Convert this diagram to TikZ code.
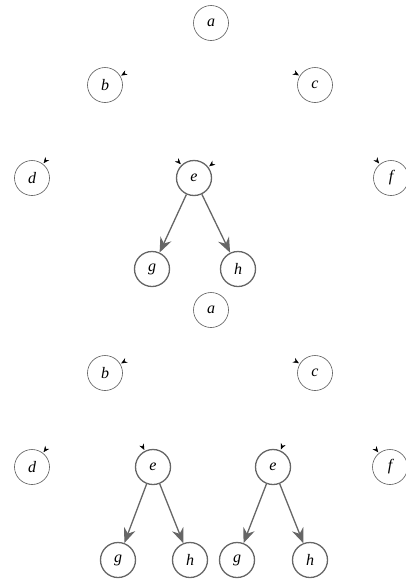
\documentclass[tikz,border=0pt]{standalone}
\usepackage{fontspec}
\setmainfont{Liberation Serif}
\usetikzlibrary{positioning}
\usetikzlibrary{arrows.meta}

\begin{document}
\begin{tikzpicture}[
    vertex/.style={circle, draw=black!65, line width=0.6pt, minimum size=35pt, inner sep=0pt, font=\fontsize{16}{18}\selectfont\itshape},
    hotvertex/.style={vertex, draw=black!60, line width=1.3pt},
    hidden/.style={draw=white, line width=0.4pt, shorten >=1pt, -{Stealth[color=black, length=6pt, width=5pt]}},
    treeedge/.style={draw=black!60, line width=1.3pt, -{Stealth[length=15pt, width=12pt, inset=5pt]}},
    on grid
    ]
    \useasboundingbox (0,0) rectangle (406pt,-581pt);

    %Nodes, first tree
    \node[vertex] (a) at (211pt,-23pt) {a};
    \node[vertex] (b) [below left=62pt and 106pt of a] {b};
    \node[vertex] (c) [below right=62pt and 104pt of a] {c};
    \node[vertex] (d) [below left=93pt and 73pt of b] {d};
    \node[hotvertex] (e) [below right=93pt and 89pt of b] {e};
    \node[vertex] (f) [below right=93pt and 76pt of c] {f};
    \node[hotvertex] (g) [below left=91pt and 42pt of e] {g};
    \node[hotvertex] (h) [below right=91pt and 44pt of e] {h};

    %Nodes, second tree
    \node[vertex] (a2) [below=287pt of a] {a};
    \node[vertex] (b2) [below left=63pt and 106pt of a2] {b};
    \node[vertex] (c2) [below right=63pt and 104pt of a2] {c};
    \node[vertex] (d2) [below left=94pt and 73pt of b2] {d};
    \node[hotvertex] (e2) [below right=94pt and 48pt of b2] {e};
    \node[hotvertex] (e3) [below left=94pt and 42pt of c2] {e};
    \node[vertex] (f2) [below right=94pt and 75pt of c2] {f};
    \node[hotvertex] (g2) [below left=93pt and 35pt of e2] {g};
    \node[hotvertex] (h2) [below right=93pt and 37pt of e2] {h};
    \node[hotvertex] (g3) [below left=93pt and 36pt of e3] {g};
    \node[hotvertex] (h3) [below right=93pt and 37pt of e3] {h};

    %Lines
    \draw[hidden] (a) -- (b);
    \draw[hidden] (a) -- (c);
    \draw[hidden] (b) -- (d);
    \draw[hidden] (b) -- (e);
    \draw[hidden] (c) -- (e);
    \draw[hidden] (c) -- (f);
    \draw[treeedge] (e) -- (g);
    \draw[treeedge] (e) -- (h);

    \draw[hidden] (a2) -- (b2);
    \draw[hidden] (a2) -- (c2);
    \draw[hidden] (b2) -- (d2);
    \draw[hidden] (b2) -- (e2);
    \draw[hidden] (c2) -- (e3);
    \draw[hidden] (c2) -- (f2);
    \draw[treeedge] (e2) -- (g2);
    \draw[treeedge] (e2) -- (h2);
    \draw[treeedge] (e3) -- (g3);
    \draw[treeedge] (e3) -- (h3);

\end{tikzpicture}
\end{document}
